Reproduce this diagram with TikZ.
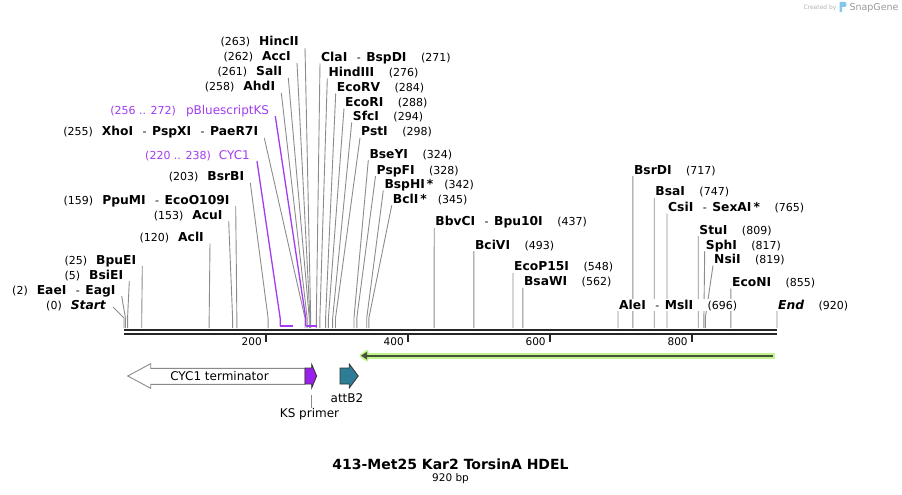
\documentclass[tikz,border=0pt]{standalone}
\usepackage{fontspec}
\setmainfont{DejaVu Sans}
\usetikzlibrary{calc}
\pgfdeclarelayer{lines}
\pgfsetlayers{lines,main}
\definecolor{cutgray}{HTML}{8C8C8C}
\definecolor{fpurple}{HTML}{A23CF0}
\definecolor{kspurple}{HTML}{9B1FEA}
\definecolor{attteal}{HTML}{2E7D96}
\definecolor{axisdark}{HTML}{262626}
\definecolor{halo}{HTML}{C2F48E}
\definecolor{karline}{HTML}{46523C}
\definecolor{outl}{HTML}{333333}
\definecolor{termgray}{HTML}{8A8A8A}
\newcommand\lbn[1]{{\fontsize{12.3}{14}\selectfont\bfseries #1}}
\newcommand\lbp[1]{{\fontsize{11}{13}\selectfont #1}}
\newcommand\lbd{\hspace{9.5pt}{\fontsize{11}{13}\selectfont -}\hspace{5.5pt}}
\newcommand\lgap{\hspace{9pt}}
\newcommand\rgap{\hspace{14.5pt}}
\newcommand\site[2]{\coordinate (#1) at ({124+#2*0.709783},328);}
\newcommand\cutL[2]{\draw[cutline] ([xshift=6pt]#1.south east) -- ([yshift=10pt]#2) -- (#2);}
\newcommand\cutR[2]{\draw[cutline] ([xshift=-1pt]#1.south west) -- ([yshift=10pt]#2) -- (#2);}
\begin{document}
\begin{tikzpicture}[x=1pt,y=-1pt,
  lab/.style={inner sep=0pt, fill=white, text height=10pt, text depth=2pt},
  labL/.style={lab, anchor=east},
  labR/.style={lab, anchor=west},
  cutline/.style={draw=cutgray, line width=0.9pt},
  featline/.style={draw=fpurple, line width=1.3pt},
  featbar/.style={draw=fpurple, line width=2pt},
  axisline/.style={draw=axisdark, line width=2pt},
  tickmark/.style={draw=axisdark, line width=2pt},
  ticklab/.style={anchor=east, inner sep=0pt, font=\fontsize{10.5}{12}\selectfont},
  featlab/.style={inner sep=0pt, font=\fontsize{12}{14}\selectfont}]
\useasboundingbox (0,0) rectangle (902,495);

% ---- sites on the axis
\site{s0}{0}\site{s2}{2}\site{s5}{5}\site{s25}{25}\site{s120}{120}
\site{s153}{153}\site{s159}{159}\site{s203}{203}\site{s255}{255}
\site{s258}{258}\site{s261}{261}\site{s262}{262}\site{s263}{263}
\site{s271}{271}\site{s276}{276}\site{s284}{284}\site{s288}{288}
\site{s294}{294}\site{s298}{298}\site{s324}{324}\site{s328}{328}
\site{s342}{342}\site{s345}{345}\site{s437}{437}\site{s493}{493}
\site{s548}{548}\site{s562}{562}\site{s696}{696}\site{s717}{717}
\site{s747}{747}\site{s765}{765}\site{s809}{809}\site{s817}{817}
\site{s819}{819}\site{s855}{855}\site{s920}{920}
\site{f220}{220}\site{f238}{238}\site{f256}{256}\site{f272}{272}

% ---- left labels
\node[labL] (hinc) at (299,41.7) {\lbp{(263)}\lgap\lbn{HincII}};
\node[labL] (acc) at (291,56.7) {\lbp{(262)}\lgap\lbn{AccI}};
\node[labL] (sal) at (282.3,71.7) {\lbp{(261)}\lgap\lbn{SalI}};
\node[labL] (ahd) at (275.3,86.7) {\lbp{(258)}\lgap\lbn{AhdI}};
\node[labL, text=fpurple] (pbs) at (269.3,110) {\lbp{(256 .. 272)}\hspace{10pt}{\fontsize{12}{14}\selectfont pBluescriptKS}};
\node[labL] (xho) at (258.3,131.7) {\lbp{(255)}\lgap\lbn{XhoI}\lbd\lbn{PspXI}\lbd\lbn{PaeR7I}};
\node[labL, text=fpurple] (cyc) at (250,155) {\lbp{(220 .. 238)}\hspace{8pt}{\fontsize{12}{14}\selectfont CYC1}};
\node[labL] (bsrbi) at (244.3,176.7) {\lbp{(203)}\lgap\lbn{BsrBI}};
\node[labL] (ppumi) at (229.7,200) {\lbp{(159)}\lgap\lbn{PpuMI}\lbd\lbn{EcoO109I}};
\node[labL] (acui) at (222.7,215) {\lbp{(153)}\lgap\lbn{AcuI}};
\node[labL] (acli) at (204,237.3) {\lbp{(120)}\lgap\lbn{AclI}};
\node[labL] (bpuei) at (136.3,260) {\lbp{(25)}\lgap\lbn{BpuEI}};
\node[labL] (bsiei) at (123.3,275) {\lbp{(5)}\lgap\lbn{BsiEI}};
\node[labL] (eaei) at (115.7,290) {\lbp{(2)}\lgap\lbn{EaeI}\lbd\lbn{EagI}};
\node[labL] (startl) at (106,305) {\lbp{(0)}\lgap{\fontsize{12.3}{14}\selectfont\bfseries\itshape Start}};

% ---- right labels
\node[labR] (cla) at (321,57.3) {\lbn{ClaI}\lbd\lbn{BspDI}\rgap\lbp{(271)}};
\node[labR] (hind) at (328.3,72.3) {\lbn{HindIII}\rgap\lbp{(276)}};
\node[labR] (ecorv) at (336.7,87.3) {\lbn{EcoRV}\rgap\lbp{(284)}};
\node[labR] (ecori) at (345,102.3) {\lbn{EcoRI}\rgap\lbp{(288)}};
\node[labR] (sfci) at (352.7,116.3) {\lbn{SfcI}\rgap\lbp{(294)}};
\node[labR] (psti) at (361,131.7) {\lbn{PstI}\rgap\lbp{(298)}};
\node[labR] (bseyi) at (369.3,154) {\lbn{BseYI}\rgap\lbp{(324)}};
\node[labR] (pspfi) at (376.5,170) {\lbn{PspFI}\rgap\lbp{(328)}};
\node[labR] (bsphi) at (384.3,184.3) {\lbn{BspHI\,*}\hspace{11pt}\lbp{(342)}};
\node[labR] (bcli) at (392.7,199.3) {\lbn{BclI\,*}\hspace{11pt}\lbp{(345)}};
\node[labR] (bbvci) at (435.2,221.7) {\lbn{BbvCI}\lbd\lbn{Bpu10I}\rgap\lbp{(437)}};
\node[labR] (bcivi) at (474.9,245) {\lbn{BciVI}\rgap\lbp{(493)}};
\node[labR] (ecop) at (514,266.7) {\lbn{EcoP15I}\rgap\lbp{(548)}};
\node[labR] (bsawi) at (523.9,281.7) {\lbn{BsaWI}\rgap\lbp{(562)}};
\node[labR] (alei) at (619,305) {\lbn{AleI}\lbd\lbn{MslI}\rgap\lbp{(696)}};
\node[labR] (bsrdi) at (633.9,170) {\lbn{BsrDI}\rgap\lbp{(717)}};
\node[labR] (bsai) at (655.2,191.7) {\lbn{BsaI}\rgap\lbp{(747)}};
\node[labR] (csii) at (668,207.3) {\lbn{CsiI}\lbd\lbn{SexAI\,*}\rgap\lbp{(765)}};
\node[labR] (stui) at (699.2,230) {\lbn{StuI}\rgap\lbp{(809)}};
\node[labR] (sphi) at (705.7,245) {\lbn{SphI}\rgap\lbp{(817)}};
\node[labR] (nsii) at (714,259.3) {\lbn{NsiI}\rgap\lbp{(819)}};
\node[labR] (econi) at (731.9,282.3) {\lbn{EcoNI}\rgap\lbp{(855)}};
\node[labR] (endl) at (778,305) {{\fontsize{12.3}{14}\selectfont\bfseries\itshape End}\rgap\lbp{(920)}};

% ---- connectors (behind labels)
\begin{pgfonlayer}{lines}
\cutL{hinc}{s263}\cutL{acc}{s262}\cutL{sal}{s261}\cutL{ahd}{s258}
\cutL{xho}{s255}\cutL{bsrbi}{s203}\cutL{ppumi}{s159}\cutL{acui}{s153}
\cutL{acli}{s120}\cutL{bpuei}{s25}\cutL{bsiei}{s5}\cutL{eaei}{s2}
\draw[cutline] ([xshift=7pt,yshift=-2pt]startl.east) -- ([yshift=10pt]s0) -- (s0);
\cutR{cla}{s271}\cutR{hind}{s276}\cutR{ecorv}{s284}\cutR{ecori}{s288}
\cutR{sfci}{s294}\cutR{psti}{s298}\cutR{bseyi}{s324}\cutR{pspfi}{s328}
\cutR{bsphi}{s342}\cutR{bcli}{s345}\cutR{bbvci}{s437}\cutR{bcivi}{s493}
\cutR{ecop}{s548}\cutR{bsawi}{s562}\cutR{alei}{s696}\cutR{bsrdi}{s717}
\cutR{bsai}{s747}\cutR{csii}{s765}\cutR{stui}{s809}\cutR{sphi}{s817}
\cutR{nsii}{s819}\cutR{econi}{s855}\cutR{endl}{s920}
% feature leaders
\draw[featline] ([xshift=6pt]pbs.south east) -- ([yshift=10pt]f256) -- ([yshift=2pt]f256);
\draw[featbar] ([yshift=2pt]f256) -- ([yshift=2pt]f272);
\draw[featline] ([xshift=7pt]cyc.south east) -- ([yshift=10pt]f220) -- ([yshift=2pt]f220);
\draw[featbar] ([yshift=2pt]f220) -- ([yshift=2pt]f238);
\end{pgfonlayer}

% ---- axis
\coordinate (ax0) at (124,330.3);
\coordinate (ax1) at (777,330.3);
\draw[axisline] (ax0) -- (ax1);
\draw[axisline] ([yshift=-3.4pt]ax0) -- ([yshift=-3.4pt]ax1);
\foreach \v/\nm in {200/ta,400/tb,600/tc,800/td}{
  \coordinate (\nm) at ({124+\v*0.709783},335);
  \draw[tickmark] (\nm) -- ++(0,7);
  \node[ticklab] (\nm l) at ([xshift=-4pt,yshift=-6.7pt]\nm) {\v};
}

% ---- green feature arrow
\coordinate (gtip) at (361,355.7);
\coordinate (gend) at (774.7,355.7);
\draw[draw=halo, line width=6pt] ([xshift=5pt]gtip) -- (gend);
\filldraw[draw=halo, fill=halo, line width=3pt, line join=round] (gtip) -- ++(6,-4.3) -- ++(0,8.6) -- cycle;
\draw[draw=karline, line width=2pt] ([xshift=5pt]gtip) -- ([xshift=-2pt]gend);
\fill[karline] (gtip) -- ++(6.2,-4) -- ++(0,8) -- cycle;

% ---- CYC1 terminator
\draw[draw=termgray, fill=white, line width=0.9pt, line join=miter]
  (305,368.3) -- (150.7,368.3) -- (150.7,363.7) -- (127.7,376) -- (150.7,388.3) -- (150.7,384.3) -- (305,384.3) -- cycle;
\node[featlab] (cyctxt) at (219.5,375.7) {CYC1 terminator};

% ---- KS primer
\draw[draw=outl, fill=kspurple, line width=0.8pt]
  (305,368) -- (311.7,368) -- (311.7,364.3) -- (316.7,376) -- (311.7,388) -- (311.7,384) -- (305,384) -- cycle;
\coordinate (kstick) at (311,395.3);
\node[featlab] (kslab) at (309.5,414) {KS primer};
\draw[draw=cutgray, line width=0.9pt] (kstick) -- (kstick |- kslab.north);

% ---- attB2
\draw[draw=outl, fill=attteal, line width=0.8pt]
  (340,368) -- (349.3,368) -- (349.3,364) -- (358.3,376) -- (349.3,388) -- (349.3,384) -- (340,384) -- cycle;
\node[featlab] (attlab) at (347,397.7) {attB2};

% ---- title
\node[inner sep=0pt, font=\fontsize{14}{16}\selectfont\bfseries] (title) at (450.5,464) {413-Met25 Kar2 TorsinA HDEL};
\node[inner sep=0pt, font=\fontsize{10.5}{12}\selectfont] (bplen) at (450.5,479) {920 bp};

% ---- watermark
\node[inner sep=0pt, text=black!30, font=\fontsize{6}{7}\selectfont] (wm1) at (820,7.5) {Created by};
\fill[color={rgb,255:red,130;green,200;blue,235}] (839.5,2) -- (845,2) .. controls (847,2) and (847,7) .. (845,7) -- (842,7) -- (842,12) -- (839.5,12) -- cycle;
\node[inner sep=0pt, text=black!40, font=\fontsize{9.5}{11}\selectfont] (wm2) at (874,7.5) {SnapGene};
\end{tikzpicture}
\end{document}
